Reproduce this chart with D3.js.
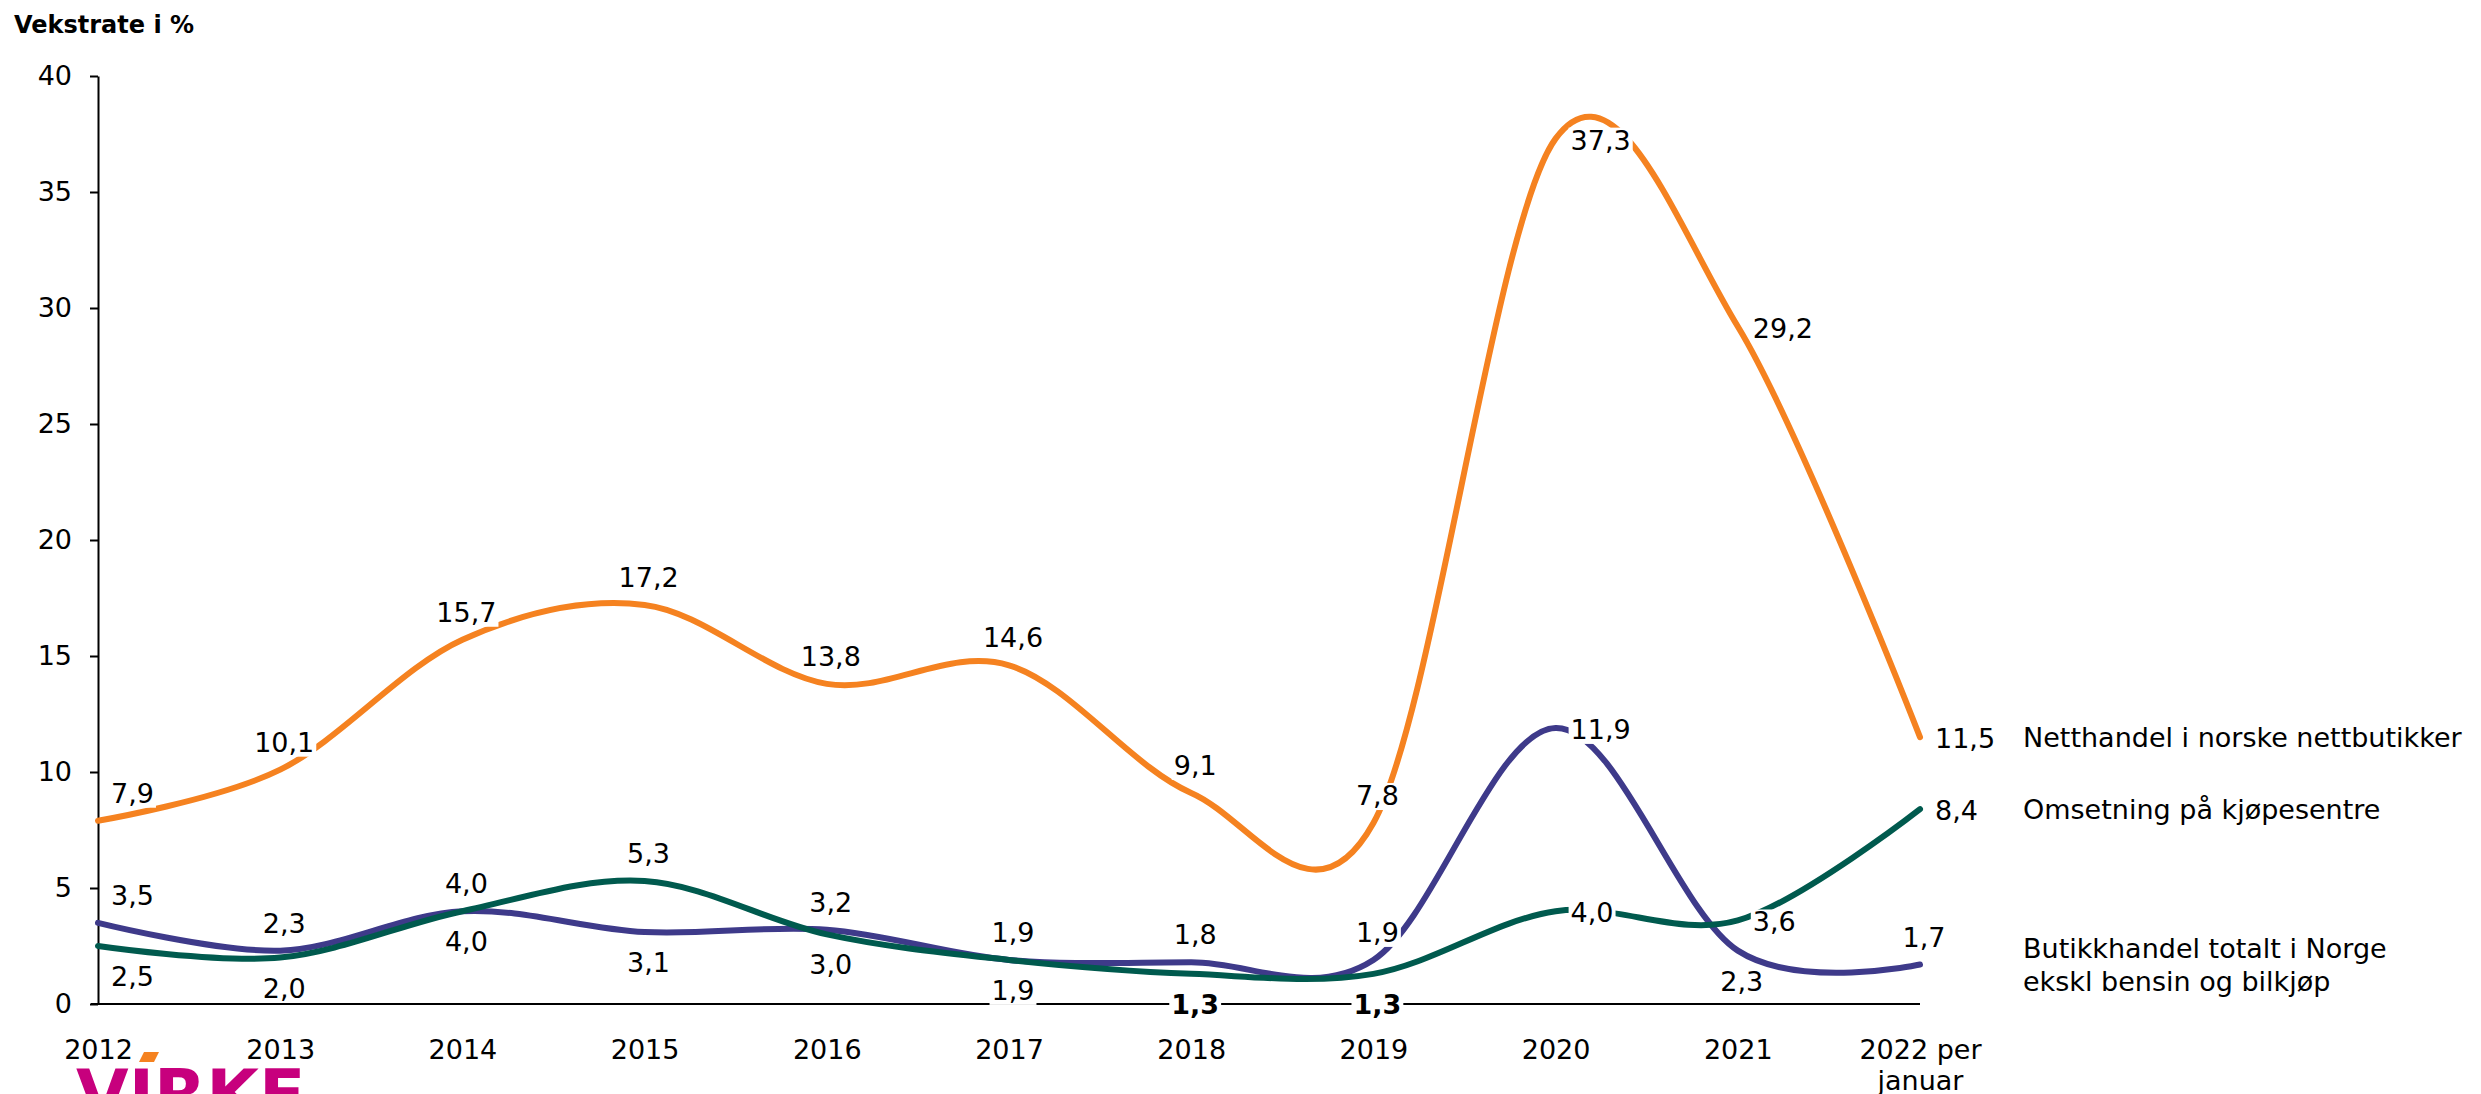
<!DOCTYPE html>
<html>
<head>
<meta charset="utf-8">
<script src="https://cdn.jsdelivr.net/npm/d3@7"></script>
<style>
body{margin:0;background:#fff;}
text{font-family:"DejaVu Sans",sans-serif;fill:#000;}
</style>
</head>
<body>
<div id="content"></div>
<script>
// data
const years = ["2012","2013","2014","2015","2016","2017","2018","2019","2020","2021","2022 per\njanuar"];
const netthandel   = [7.9,10.1,15.7,17.2,13.8,14.6,9.1,7.8,37.3,29.2,11.5];
const butikkhandel = [3.5,2.3,4.0,3.1,3.2,1.9,1.8,1.9,11.9,2.3,1.7];
const kjopesentre  = [2.5,2.0,4.0,5.3,3.0,1.9,1.3,1.3,4.0,3.6,8.4];
const yTicks = [0,5,10,15,20,25,30,35,40];
const names = [["Netthandel i norske nettbutikker"],["Butikkhandel totalt i Norge","ekskl bensin og bilkjøp"],["Omsetning på kjøpesentre"]];

// label placement per point: a = above, b = below, B = below bold, r = right
const placeNett = "aaaaaaaarrr";
const placeButikk = "aaabaaaarba";
const placeKjop = "bbbabbBBrrr";

const W = 2481, H = 1094;
const svg = d3.select("#content").append("svg")
    .attr("width", W)
    .attr("height", H);

const x = d3.scalePoint().domain(years).range([98, 1920]);
const y = d3.scaleLinear().domain([0, 40]).range([1004, 76]);

svg.append("text")
    .attr("x", 14).attr("y", 33)
    .style("font-weight", "bold")
    .style("font-size", "24px")
    .text("Vekstrate i %");

// y axis
const yAxis = svg.append("g")
    .attr("transform", "translate(98,0)")
    .call(d3.axisLeft(y).tickValues(yTicks).tickSize(8).tickSizeOuter(0).tickPadding(18).tickFormat(d => d));
yAxis.selectAll("line,path").attr("stroke", "#000").attr("stroke-width", 2);
yAxis.selectAll("text").style("font-size", "27px");

// x axis
const xAxis = svg.append("g")
    .attr("transform", "translate(0,1004)")
    .call(d3.axisBottom(x).tickSize(0).tickPadding(0));
xAxis.select(".domain").remove();
xAxis.selectAll(".tick text").each(function(d){
    const t = d3.select(this);
    t.text(null).attr("dy", null).style("font-size", "27px");
    d.split("\n").forEach((s, i) => t.append("tspan").attr("x", 0).attr("y", 55 + i * 31).text(s));
});
svg.append("line")
    .attr("x1", 91).attr("x2", x(years[years.length - 1]))
    .attr("y1", y(0)).attr("y2", y(0))
    .attr("stroke", "#000").attr("stroke-width", 2);

const series = [
    {vals: netthandel, color: "#f58220", place: placeNett, name: names[0]},
    {vals: butikkhandel, color: "#3e3a8a", place: placeButikk, name: names[1]},
    {vals: kjopesentre, color: "#005a4e", place: placeKjop, name: names[2]}
];

const line = d3.line()
    .x((d, i) => x(years[i]))
    .y(d => y(d))
    .curve(d3.curveCardinal.tension(0));

svg.append("g").selectAll("path")
    .data(series)
    .enter().append("path")
    .attr("d", d => line(d.vals))
    .attr("fill", "none")
    .attr("stroke", d => d.color)
    .attr("stroke-width", 6)
    .attr("stroke-linecap", "round");

const fmt = v => d3.format(".1f")(v).replace(".", ",");

// data labels with white background
const labels = svg.append("g");
series.forEach(s => {
    s.vals.forEach((v, i) => {
        const p = s.place[i];
        const px = x(years[i]), py = y(v);
        const g = labels.append("g");
        const t = g.append("text").style("font-size", "27px").text(fmt(v));
        let tx = px + 4, ty = py, anchor = "middle";
        if (p === "a") ty = py - 28;
        else if (p === "b" || p === "B") ty = py + 30;
        else if (p === "r") { tx = px + 15; anchor = "start"; ty = py + 1; }
        if (i === 0) { tx = px + 13; anchor = "start"; }
        if (p === "B") t.style("font-weight", "bold");
        t.attr("x", tx).attr("y", ty + 10).attr("text-anchor", anchor);
        const bb = t.node().getBBox();
        g.insert("rect", "text")
            .attr("x", bb.x - 2).attr("y", bb.y + 3)
            .attr("width", bb.width + 4).attr("height", bb.height - 4)
            .attr("fill", "#fff");
    });
});

// series names at the line ends
series.forEach(s => {
    const ly = y(s.vals[s.vals.length - 1]);
    const n = s.name.length;
    s.name.forEach((str, k) => {
        svg.append("text")
            .attr("x", 2023)
            .attr("y", ly + 10 + (k - (n - 1) / 2) * 33)
            .style("font-size", "27px")
            .text(str);
    });
});

// logo, cut off at the bottom edge
svg.append("text")
    .attr("x", 76).attr("y", 1118)
    .style("font-size", "68px")
    .style("font-weight", "bold")
    .style("fill", "#c7007d")
    .text("VIRKE");
svg.append("polygon")
    .attr("points", "139,1062 144,1052 159,1052 154,1062")
    .attr("fill", "#f58220");
</script>
</body>
</html>
